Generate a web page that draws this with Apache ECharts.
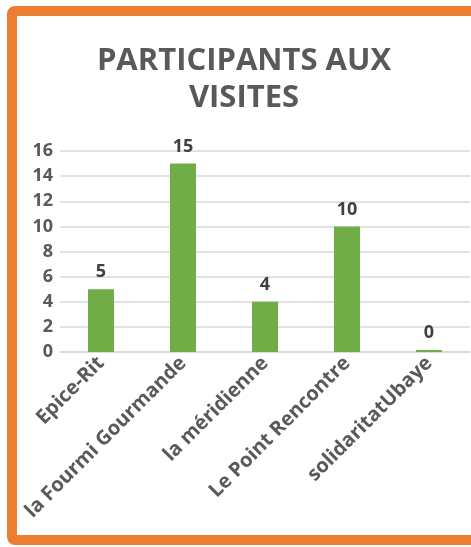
<!DOCTYPE html>
<html>
<head>
<meta charset="utf-8">
<script src="https://cdn.jsdelivr.net/npm/echarts@6/dist/echarts.min.js"></script>
<style>
  html, body { margin: 0; padding: 0; background: #fff; }
  .frame {
    position: absolute;
    left: 7px; top: 6px;
    width: 490px; height: 519px;
    border: 10px solid #ED7D31;
    border-radius: 8px;
  }
  #chart { position: absolute; left: 0; top: 0; width: 471px; height: 547px; }
</style>
</head>
<body>
<div class="frame"></div>
<div id="chart"></div>
<script>
// participants par structure
const categories = ['Epice-Rit', 'la Fourmi Gourmande', 'la méridienne', 'Le Point Rencontre', 'solidaritatUbaye'];
const participants = [5, 15, 4, 10, 0];
const yTicks = [0, 2, 4, 6, 8, 10, 12, 14, 16];

const fontFamily = '"Open Sans", sans-serif';

let chart = echarts.init(document.getElementById('chart'));

let option = {
  animation: false,
  title: {
    text: 'PARTICIPANTS AUX\nVISITES',
    left: 239,
    top: 38,
    textAlign: 'center',
    textStyle: {
      fontFamily: fontFamily,
      fontWeight: 'bold',
      fontSize: 31,
      lineHeight: 37,
      color: '#595959'
    }
  },
  grid: {
    left: 60,
    right: 1,
    top: 151,
    bottom: 195,
    containLabel: false
  },
  xAxis: {
    type: 'category',
    data: categories,
    axisTick: { show: false },
    axisLine: { lineStyle: { color: '#d9d9d9', width: 1.5 } },
    axisLabel: {
      interval: 0,
      rotate: 45,
      margin: 8,
      fontFamily: fontFamily,
      fontWeight: 'bold',
      fontSize: 20,
      color: '#595959'
    }
  },
  yAxis: {
    type: 'value',
    min: yTicks[0],
    max: yTicks[yTicks.length - 1],
    interval: 2,
    axisLine: { show: false },
    axisTick: { show: false },
    splitLine: { lineStyle: { color: '#d9d9d9', width: 1.5 } },
    axisLabel: {
      margin: 7,
      fontFamily: fontFamily,
      fontWeight: 'bold',
      fontSize: 18,
      color: '#595959'
    }
  },
  series: [
    {
      type: 'bar',
      data: participants,
      barWidth: 26,
      barMinHeight: 2,
      itemStyle: { color: '#70AD47' },
      label: {
        show: true,
        position: 'top',
        distance: 8,
        fontFamily: fontFamily,
        fontWeight: 'bold',
        fontSize: 18,
        color: '#404040'
      }
    }
  ]
};

chart.setOption(option);
</script>
</body>
</html>
